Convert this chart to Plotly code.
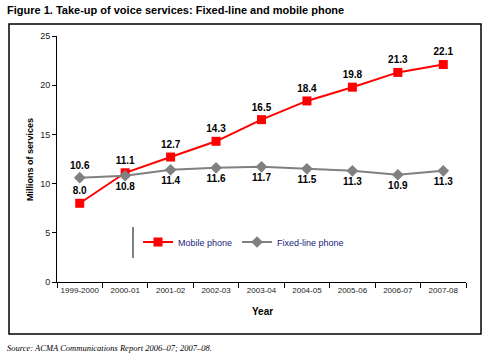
import plotly.graph_objects as go

years = ["1999-2000", "2000-01", "2001-02", "2002-03", "2003-04",
         "2004-05", "2005-06", "2006-07", "2007-08"]
mobile = [8.0, 11.1, 12.7, 14.3, 16.5, 18.4, 19.8, 21.3, 22.1]
fixed = [10.6, 10.8, 11.4, 11.6, 11.7, 11.5, 11.3, 10.9, 11.3]

fixed_pos = ["top center"] + ["bottom center"] * (len(fixed) - 1)

fig = go.Figure()
fig.add_trace(go.Scatter(
    x=years, y=mobile, name="Mobile phone", mode="lines+markers+text",
    line=dict(color="#ff0000", width=2),
    marker=dict(symbol="square", size=9, color="#ff0000"),
    text=[f"{v:.1f}" for v in mobile], textposition="top center",
    textfont=dict(family="Liberation Sans, Arial", size=10, color="#000000"),
    texttemplate="<b>%{text}</b>",
))
fig.add_trace(go.Scatter(
    x=years, y=fixed, name="Fixed-line phone", mode="lines+markers+text",
    line=dict(color="#808080", width=2),
    marker=dict(symbol="diamond", size=9, color="#808080"),
    text=[f"{v:.1f}" for v in fixed], textposition=fixed_pos,
    textfont=dict(family="Liberation Sans, Arial", size=10, color="#000000"),
    texttemplate="<b>%{text}</b>",
))

L, R, T, B = 57, 466, 36, 282
W, H = 491, 359
pw, ph = R - L, B - T

def px(x):
    return (x - L) / pw

def py(y):
    return (B - y) / ph

fig.update_layout(
    width=W, height=H,
    margin=dict(l=L, r=W - R, t=T, b=H - B, autoexpand=False),
    paper_bgcolor="white", plot_bgcolor="white",
    font=dict(family="Liberation Sans, Arial", size=9, color="#000000"),
    showlegend=True,
    legend=dict(orientation="h", x=px(138), y=py(242), xanchor="left", yanchor="middle",
                font=dict(size=9, color="#1a1a80"), bgcolor="rgba(0,0,0,0)",
                itemwidth=30, tracegroupgap=0),
    xaxis=dict(type="category", range=[-0.5, 8.5], showline=True, linecolor="#000000",
               linewidth=1, ticks="outside", tickson="boundaries", ticklen=5,
               tickcolor="#000000", showgrid=False, zeroline=False, tickangle=0,
               automargin=False, tickfont=dict(size=8, color="#222222")),
    yaxis=dict(range=[0, 25], dtick=5, showline=True, linecolor="#000000", linewidth=1,
               ticks="outside", ticklen=4, tickcolor="#000000", showgrid=False,
               automargin=False, zeroline=False, tickfont=dict(size=9, color="#222222")),
    shapes=[
        dict(type="rect", xref="paper", yref="paper", x0=px(9), x1=px(481),
             y0=py(334), y1=py(24), line=dict(color="#000000", width=1.5)),
        dict(type="line", xref="paper", yref="paper", x0=px(133), x1=px(133),
             y0=py(258), y1=py(227), line=dict(color="#000000", width=1)),
    ],
    annotations=[
        dict(text="<b>Figure 1. Take-up of voice services: Fixed-line and mobile phone</b>",
             xref="paper", yref="paper", x=px(5), y=py(10), xanchor="left", yanchor="middle",
             showarrow=False, font=dict(size=11, color="#000000")),
        dict(text="<b>Year</b>", xref="paper", yref="paper", x=px(262), y=py(311),
             xanchor="center", yanchor="middle", showarrow=False, font=dict(size=10)),
        dict(text="<b>Millions of services</b>", xref="paper", yref="paper", x=px(30),
             y=py(160), xanchor="center", yanchor="middle", textangle=-90,
             showarrow=False, font=dict(size=9)),
        dict(text="<i>Source: ACMA Communications Report 2006–07; 2007–08.</i>",
             xref="paper", yref="paper", x=px(5), y=py(348), xanchor="left",
             yanchor="middle", showarrow=False,
             font=dict(family="Liberation Serif, Times New Roman", size=8.5)),
    ],
)

fig.write_html("out.html", config={"displayModeBar": False},
               post_script="document.body.style.margin='0';document.body.style.overflow='hidden';")
